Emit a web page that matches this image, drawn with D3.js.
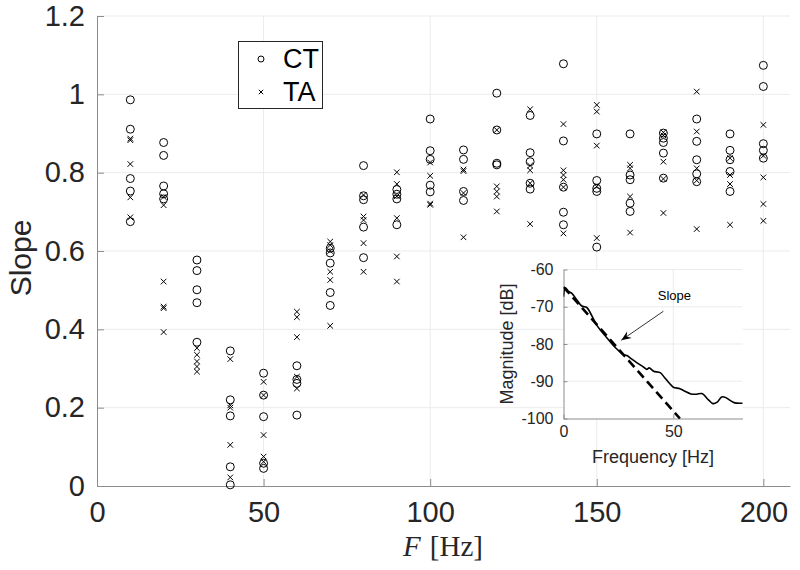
<!DOCTYPE html>
<html>
<head>
<meta charset="utf-8">
<script src="https://cdn.jsdelivr.net/npm/d3@7"></script>
<style>
  html, body { margin: 0; padding: 0; background: #fff; }
  svg { display: block; }
</style>
</head>
<body>
<svg id="chart" width="800" height="570"></svg>
<script>
// ---------------- data ----------------
const freqs = [10, 20, 30, 40, 50, 60, 70, 80, 90, 100, 110, 120, 130, 140, 150, 160, 170, 180, 190, 200];

const ctValues = [
  [0.986, 0.911, 0.785, 0.753, 0.675],
  [0.877, 0.844, 0.766, 0.746, 0.733],
  [0.577, 0.550, 0.501, 0.468, 0.367],
  [0.345, 0.220, 0.179, 0.049, 0.003],
  [0.288, 0.232, 0.177, 0.058, 0.045],
  [0.307, 0.272, 0.262, 0.181],
  [0.607, 0.595, 0.569, 0.494, 0.461],
  [0.818, 0.741, 0.731, 0.661, 0.583],
  [0.757, 0.745, 0.733, 0.667],
  [0.937, 0.856, 0.834, 0.768, 0.751],
  [0.858, 0.834, 0.752, 0.729],
  [1.003, 0.909, 0.824, 0.820],
  [0.946, 0.851, 0.828, 0.773, 0.758],
  [1.078, 0.881, 0.763, 0.699, 0.667],
  [0.899, 0.780, 0.760, 0.752, 0.610],
  [0.899, 0.794, 0.782, 0.722, 0.701],
  [0.901, 0.888, 0.877, 0.850, 0.786],
  [0.937, 0.880, 0.833, 0.797, 0.777],
  [0.899, 0.857, 0.833, 0.803, 0.752],
  [1.074, 1.020, 0.874, 0.857, 0.837]
];

const taValues = [
  [0.887, 0.883, 0.822, 0.737, 0.686],
  [0.738, 0.717, 0.522, 0.458, 0.454, 0.393],
  [0.352, 0.335, 0.318, 0.305, 0.292],
  [0.324, 0.206, 0.200, 0.105, 0.022],
  [0.266, 0.232, 0.130, 0.075, 0.062],
  [0.445, 0.431, 0.380, 0.279, 0.249],
  [0.624, 0.615, 0.600, 0.547, 0.526, 0.409],
  [0.743, 0.688, 0.679, 0.620, 0.547],
  [0.801, 0.771, 0.740, 0.684, 0.586, 0.522],
  [0.826, 0.792, 0.721, 0.718],
  [0.808, 0.804, 0.748, 0.635],
  [0.909, 0.765, 0.752, 0.739, 0.701],
  [0.962, 0.818, 0.806, 0.773, 0.669],
  [0.924, 0.806, 0.794, 0.782, 0.763, 0.645],
  [0.973, 0.956, 0.869, 0.765, 0.633],
  [0.820, 0.811, 0.739, 0.647],
  [0.903, 0.895, 0.828, 0.784, 0.697],
  [1.007, 0.905, 0.811, 0.780, 0.656],
  [0.837, 0.794, 0.771, 0.667],
  [0.922, 0.843, 0.788, 0.720, 0.677]
];

const xTicks = [0, 50, 100, 150, 200];
const xTickLabels = ["0", "50", "100", "150", "200"];
const yTicks = [0, 0.2, 0.4, 0.6, 0.8, 1.0, 1.2];
const yTickLabels = ["0", "0.2", "0.4", "0.6", "0.8", "1", "1.2"];
const seriesNames = ["CT", "TA"];

// inset: spectrum magnitude and fitted slope
const insetFreq = [0, 0.8, 2.3, 3.8, 6.1, 8.3, 10.6, 12, 15.2, 19.7, 22.7, 25.8, 27, 28.8, 31, 33.3, 36, 37.9, 39, 41, 44, 46, 48, 50, 53, 55, 58, 60.6, 63, 66, 68, 70, 72, 74, 76, 78, 81.5];
const insetMag  = [-67.3, -64.9, -65.9, -66.4, -68.2, -69.8, -70.2, -71.4, -75.0, -78.3, -80.4, -82.2, -82.8, -83.1, -84.0, -85.0, -86.0, -86.8, -86.4, -87.3, -87.7, -89.0, -90.4, -91.6, -92.0, -92.6, -93.4, -93.5, -93.3, -95.0, -96.0, -95.6, -94.2, -94.4, -95.2, -95.8, -95.9];
const slopeFreq = [0, 53];
const slopeMag  = [-64.7, -100];
const insetXTicks = [0, 50];
const insetYTicks = [-60, -70, -80, -90, -100];
const arrowFrom = [45.5, -71.2];
const arrowTo   = [26.3, -79.0];
const slopeLabelPos = [50.5, -68.3];

// ---------------- drawing ----------------
const svg = d3.select("#chart");
const FONT = "'Liberation Sans', Arial, Helvetica, sans-serif";
const AXIS_COLOR = "#8c8c8c";
const GRID_COLOR = "#ebebeb";
const TEXT_COLOR = "#262626";

const x = d3.scaleLinear().domain([0, 208]).range([97, 790]);
const y = d3.scaleLinear().domain([0, 1.2]).range([486, 16]);

// grid
const grid = svg.append("g");
grid.selectAll("line.gx").data(xTicks.slice(1)).join("line")
  .attr("x1", d => x(d)).attr("x2", d => x(d))
  .attr("y1", y(0)).attr("y2", y(1.2))
  .attr("stroke", GRID_COLOR).attr("stroke-width", 1);
grid.selectAll("line.gy").data(yTicks.slice(1)).join("line")
  .attr("x1", x(0)).attr("x2", x(208))
  .attr("y1", d => y(d)).attr("y2", d => y(d))
  .attr("stroke", GRID_COLOR).attr("stroke-width", 1);

// axes
const xAxis = d3.axisBottom(x).tickValues(xTicks).tickFormat((d, i) => xTickLabels[i])
  .tickSizeInner(-7).tickSizeOuter(0).tickPadding(15);
const yAxis = d3.axisLeft(y).tickValues(yTicks).tickFormat((d, i) => yTickLabels[i])
  .tickSizeInner(-7).tickSizeOuter(0).tickPadding(12);

function styleAxis(g, fs) {
  g.select(".domain").attr("stroke", AXIS_COLOR);
  g.selectAll(".tick line").attr("stroke", AXIS_COLOR);
  g.selectAll(".tick text").attr("fill", TEXT_COLOR).style("font-family", FONT).style("font-size", fs + "px");
}
svg.append("g").attr("transform", `translate(0,${y(0)})`).call(xAxis).call(g => styleAxis(g, 29));
svg.append("g").attr("transform", `translate(${x(0)},0)`).call(yAxis).call(g => styleAxis(g, 29));

// axis titles
svg.append("text")
  .attr("x", 443).attr("y", 556)
  .attr("text-anchor", "middle")
  .style("font-family", "'Liberation Serif', 'DejaVu Serif', serif")
  .style("font-size", "29px").attr("fill", TEXT_COLOR)
  .call(t => {
    t.append("tspan").style("font-style", "italic").text("F");
    t.append("tspan").attr("dx", 9).text("[Hz]");
  });
svg.append("text")
  .attr("transform", "translate(31,258) rotate(-90)")
  .attr("text-anchor", "middle")
  .style("font-family", FONT).style("font-size", "30px").attr("fill", TEXT_COLOR)
  .text("Slope");

// markers
function circleMark(g, cx, cy, r) {
  g.append("circle").attr("cx", cx).attr("cy", cy).attr("r", r)
    .attr("fill", "none").attr("stroke", "#000").attr("stroke-width", 1);
}
const crossPath = s => `M${-s},${-s}L${s},${s}M${-s},${s}L${s},${-s}`;

const pts = svg.append("g");
const ctFlat = freqs.flatMap((f, i) => ctValues[i].map(v => ({ f, v })));
const taFlat = freqs.flatMap((f, i) => taValues[i].map(v => ({ f, v })));
pts.selectAll("circle.ct").data(ctFlat).join("circle")
  .attr("class", "ct")
  .attr("cx", d => x(d.f)).attr("cy", d => y(d.v)).attr("r", 4)
  .attr("fill", "none").attr("stroke", "#000").attr("stroke-width", 1);
pts.selectAll("path.ta").data(taFlat).join("path")
  .attr("class", "ta")
  .attr("transform", d => `translate(${x(d.f)},${y(d.v)})`)
  .attr("d", crossPath(2.8))
  .attr("fill", "none").attr("stroke", "#000").attr("stroke-width", 1);

// legend
const lg = svg.append("g");
lg.append("rect").attr("x", 238.5).attr("y", 41.5).attr("width", 84).attr("height", 67)
  .attr("fill", "#fff").attr("stroke", "#262626").attr("stroke-width", 1);
circleMark(lg, 261, 59, 3);
lg.append("path").attr("transform", "translate(261,92)").attr("d", crossPath(2.2))
  .attr("stroke", "#000").attr("stroke-width", 1);
lg.selectAll("text").data(seriesNames).join("text")
  .attr("x", 283).attr("y", (d, i) => 68 + i * 33)
  .style("font-family", FONT).style("font-size", "27px").attr("fill", "#000")
  .text(d => d);

// ---------------- inset ----------------
const ix = d3.scaleLinear().domain([0, 81.5]).range([563.5, 742.5]);
const iy = d3.scaleLinear().domain([-100, -60]).range([418.5, 269.5]);
const inset = svg.append("g");
inset.append("rect").attr("x", ix(0)).attr("y", iy(-60))
  .attr("width", ix(81.5) - ix(0)).attr("height", iy(-100) - iy(-60)).attr("fill", "#fff");
inset.selectAll("line.igy").data(insetYTicks.filter(d => d > -100)).join("line")
  .attr("x1", ix(0)).attr("x2", ix(81.5)).attr("y1", d => iy(d)).attr("y2", d => iy(d))
  .attr("stroke", GRID_COLOR);
inset.selectAll("line.igx").data(insetXTicks.filter(d => d > 0)).join("line")
  .attr("x1", d => ix(d)).attr("x2", d => ix(d)).attr("y1", iy(-100)).attr("y2", iy(-60))
  .attr("stroke", GRID_COLOR);

const ixAxis = d3.axisBottom(ix).tickValues(insetXTicks).tickFormat(d3.format("d"))
  .tickSizeInner(-4).tickSizeOuter(0).tickPadding(7);
const iyAxis = d3.axisLeft(iy).tickValues(insetYTicks).tickFormat(d3.format("d"))
  .tickSizeInner(-4).tickSizeOuter(0).tickPadding(10);
inset.append("g").attr("transform", `translate(0,${iy(-100)})`).call(ixAxis).call(g => styleAxis(g, 16));
inset.append("g").attr("transform", `translate(${ix(0)},0)`).call(iyAxis).call(g => styleAxis(g, 16));
inset.selectAll(".tick text").text(function() { return this.textContent.replace("−", "-"); });

inset.append("text").attr("x", 653).attr("y", 463).attr("text-anchor", "middle")
  .style("font-family", FONT).style("font-size", "18px").attr("fill", TEXT_COLOR)
  .text("Frequency [Hz]");
inset.append("text").attr("transform", "translate(513,344) rotate(-90)").attr("text-anchor", "middle")
  .style("font-family", FONT).style("font-size", "18px").attr("fill", TEXT_COLOR)
  .text("Magnitude [dB]");

const clip = svg.append("clipPath").attr("id", "iclip").append("rect")
  .attr("x", ix(0)).attr("y", iy(-60) - 2).attr("width", ix(81.5) - ix(0) + 2).attr("height", iy(-100) - iy(-60) + 4);

const specLine = d3.line().x(d => ix(d[0])).y(d => iy(d[1])).curve(d3.curveCatmullRom.alpha(0.5));
inset.append("path")
  .datum(insetFreq.map((f, i) => [f, insetMag[i]]))
  .attr("d", specLine).attr("fill", "none").attr("stroke", "#000").attr("stroke-width", 1.6)
  .attr("clip-path", "url(#iclip)");
inset.append("path")
  .datum(slopeFreq.map((f, i) => [f, slopeMag[i]]))
  .attr("d", d3.line().x(d => ix(d[0])).y(d => iy(d[1])))
  .attr("fill", "none").attr("stroke", "#000").attr("stroke-width", 2.6)
  .attr("stroke-dasharray", "9,5").attr("clip-path", "url(#iclip)");

// arrow
const ax1 = ix(arrowFrom[0]), ay1 = iy(arrowFrom[1]), ax2 = ix(arrowTo[0]), ay2 = iy(arrowTo[1]);
inset.append("line").attr("x1", ax1).attr("y1", ay1).attr("x2", ax2).attr("y2", ay2)
  .attr("stroke", "#000").attr("stroke-width", 0.8);
const ang = Math.atan2(ay2 - ay1, ax2 - ax1);
const hl = 10, hw = 4;
const bx = ax2 - hl * Math.cos(ang), by = ay2 - hl * Math.sin(ang);
inset.append("path")
  .attr("d", `M${ax2},${ay2}L${bx + hw * Math.sin(ang)},${by - hw * Math.cos(ang)}L${bx + 0.35 * hl * Math.cos(ang)},${by + 0.35 * hl * Math.sin(ang)}L${bx - hw * Math.sin(ang)},${by + hw * Math.cos(ang)}Z`)
  .attr("fill", "#000");
inset.append("text").attr("x", ix(slopeLabelPos[0])).attr("y", iy(slopeLabelPos[1]))
  .attr("text-anchor", "middle")
  .style("font-family", FONT).style("font-size", "13px").attr("fill", "#000")
  .text("Slope");
</script>
</body>
</html>
